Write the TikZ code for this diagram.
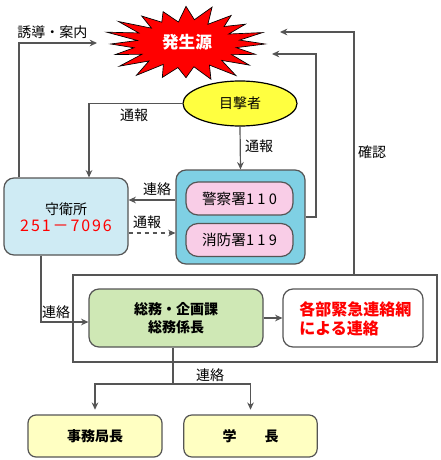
\documentclass[tikz,border=0pt]{standalone}
\usepackage{fontspec}
\setmainfont{Noto Sans CJK JP}
\usetikzlibrary{arrows.meta,calc,shapes.geometric}
\definecolor{lineg}{HTML}{555555}
\definecolor{edgeg}{HTML}{555555}
\definecolor{ghfill}{HTML}{CFEBF4}
\definecolor{bluefill}{HTML}{7FD0E4}
\definecolor{pinkfill}{HTML}{F9CDE7}
\definecolor{greenfill}{HTML}{CFE8B5}
\definecolor{yelfill}{HTML}{FFFFC2}
\definecolor{eyefill}{HTML}{FFFF40}
\begin{document}
\begin{tikzpicture}[x=0.75pt,y=-0.75pt,
  declare function={br(\k)=ifthenelse(mod(\k,2)==0,0.93+0.07*sin(\k*137),0.6+0.06*cos(\k*91));},
  conn/.style={draw=lineg,line width=0.9pt},
  arr/.style={conn,-{Stealth[length=5.5pt,width=5pt]}},
  lbl/.style={font=\fontsize{10.5}{12}\selectfont,inner sep=0pt},
  rbox/.style={draw=edgeg,line width=0.9pt,rounded corners=7.5pt,inner sep=0pt},
]
\fill[white] (0,0) rectangle (440,460);
\useasboundingbox (0,0) rectangle (440,460);

% starburst
\draw[fill=red,draw=black,line width=0.5pt]
  plot[samples at={0,...,39},variable=\i]
  ({186+85*br(\i)*cos(\i*9)},{44+39*br(\i)*sin(\i*9)}) -- cycle;
\node[font=\bfseries\fontsize{12.5}{14}\selectfont,text=white,inner sep=0pt] (src) at (187,42) {発生源};

% nodes
\node[draw=black,line width=0.9pt,fill=eyefill,ellipse,minimum width=85.5pt,minimum height=33.75pt,inner sep=0pt,
  font=\fontsize{10.5}{12}\selectfont] (eye) at (240,103.5) {目撃者};

\node[rbox,fill=ghfill,minimum width=93pt,minimum height=57.75pt] (gh) at (66,216.5) {};
\node[font=\fontsize{10.5}{12}\selectfont,inner sep=0pt] (ghname) at (66,209) {守衛所};
\node[font=\fontsize{12}{14}\selectfont\addfontfeature{LetterSpace=12},text=red,inner sep=0pt] (ghtel) at (66,226) {251－7096};

\node[rbox,fill=bluefill,minimum width=96.75pt,minimum height=70.5pt] (blue) at (240.5,217) {};
\node[rbox,fill=pinkfill,rounded corners=9pt,minimum width=80.25pt,minimum height=24.75pt,
  font=\fontsize{11}{13}\selectfont] (police) at (239.5,198.5) {警察署{\addfontfeature{LetterSpace=22}110}};
\node[rbox,fill=pinkfill,rounded corners=9pt,minimum width=80.25pt,minimum height=24.75pt,
  font=\fontsize{11}{13}\selectfont] (fire) at (239.5,240) {消防署{\addfontfeature{LetterSpace=22}119}};

\node[draw=edgeg,line width=0.9pt,minimum width=273pt,minimum height=65.25pt,inner sep=0pt] (big) at (255,318.5) {};
\node[rbox,fill=greenfill,minimum width=130.5pt,minimum height=43.5pt,align=center,
  font=\bfseries\fontsize{10.5}{13.5}\selectfont] (green) at (176,318) {総務・企画課\\総務係長};
\node[rbox,fill=white,minimum width=105pt,minimum height=43.5pt] (white) at (353,318) {};
\node[font=\bfseries\fontsize{12}{14.25}\selectfont,text=red,align=left,inner sep=0pt,anchor=west] (net) at (299,319) {各部緊急連絡網\\による連絡};

\node[rbox,rounded corners=6pt,fill=yelfill,minimum width=100.5pt,minimum height=31.5pt,
  font=\bfseries\fontsize{10.5}{12}\selectfont] (boss1) at (95,436) {事務局長};
\node[rbox,rounded corners=6pt,fill=yelfill,minimum width=100pt,minimum height=31.5pt,
  font=\bfseries\fontsize{10.5}{12}\selectfont] (boss2) at (250.5,436) {学　　長};

% helper coordinates
\coordinate (x19) at (19,0);
\coordinate (t1) at (97,43);
\coordinate (x354) at (354,0);
\coordinate (t2) at (280,32);
\coordinate (k316) at (316,217);
\coordinate (t3) at (272,54);
\coordinate (x89) at (89,0);
\coordinate (y200) at (0,200);
\coordinate (y233) at (0,233);
\coordinate (x41) at (41,0);
\coordinate (y322) at (0,322);
\coordinate (j) at (173,384);

% connectors
\draw[arr] (gh.north -| x19) |- (t1);
\draw[arr] (big.north -| x354) |- (t2);
\draw[arr] (blue.east) -- (k316) |- (t3);
\draw[arr] (eye.west) -| (gh.north -| x89);
\draw[arr] (eye.south) -- (blue.north);
\draw[arr] (blue.west |- y200) -- (gh.east |- y200);
\draw[arr,dashed] (gh.east |- y233) -- (blue.west |- y233);
\draw[arr] (gh.south -| x41) |- (green.west |- y322);
\draw[arr] (green.east) -- (white.west);
\draw[conn] (green.south -| j) -- (j);
\draw[arr,shorten >=3.5pt] (j) -| (boss1.north);
\draw[arr,shorten >=3.5pt] (j) -| (boss2.north);

% labels
\node[lbl,anchor=west] (l1) at (17,32) {誘導・案内};
\node[lbl] (l2) at (372,152) {確認};
\node[lbl] (l3) at (134,115) {通報};
\node[lbl] (l4) at (259,146) {通報};
\node[lbl] (l5) at (157,189) {連絡};
\node[lbl] (l6) at (147,222) {通報};
\node[lbl] (l7) at (56,312) {連絡};
\node[lbl] (l8) at (210,375) {連絡};
\end{tikzpicture}
\end{document}
